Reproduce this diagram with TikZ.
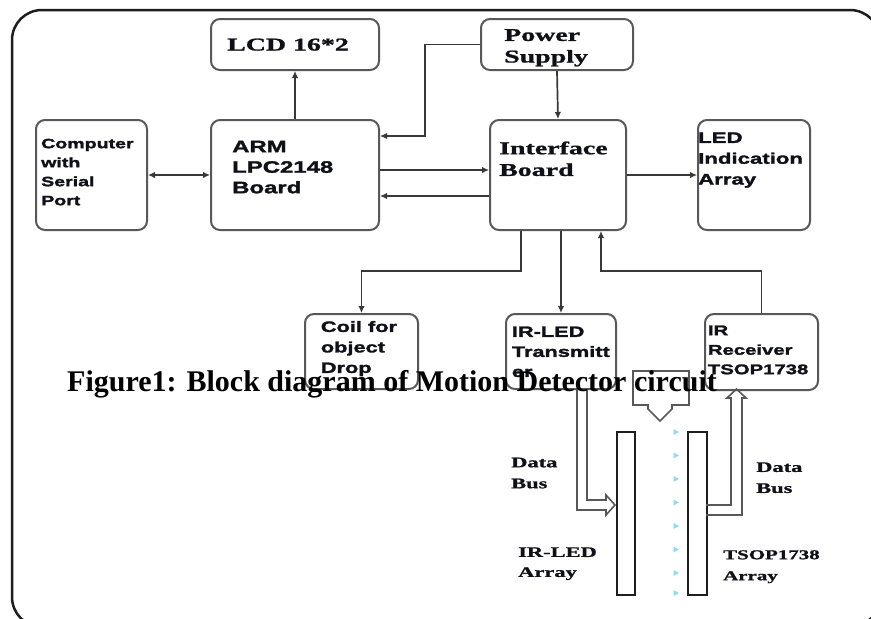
\documentclass[tikz,border=0pt]{standalone}
\usepackage{fontspec}
\newfontfamily\dserif{Liberation Serif}[FakeStretch=1.55,FakeBold=1.2]
\newfontfamily\dsans{Liberation Sans}[FakeStretch=1.45,FakeBold=1.8]
\newfontfamily\capfont{Liberation Serif}
\usetikzlibrary{arrows.meta}
\definecolor{boxc}{HTML}{585858}
\definecolor{linec}{HTML}{383838}
\definecolor{outc}{HTML}{1E1E1E}
\definecolor{txtc}{HTML}{101018}
\definecolor{dotc}{HTML}{8DDCF2}
\newcommand\tstrut{\rule{0pt}{0.8em}}
\begin{document}
\begin{tikzpicture}[x=1pt,y=-1pt,
  box/.style={draw=boxc, line width=2pt, rounded corners=9pt, inner sep=0pt, anchor=north west},
  conn/.style={draw=linec, line width=1.7pt, arrows={-Latex[length=7pt,width=6.5pt]}},
  bconn/.style={draw=linec, line width=1.7pt, arrows={Latex[length=7pt,width=6.5pt]-Latex[length=7pt,width=6.5pt]}},
  txt/.style={anchor=north west, inner sep=0pt, align=left, text=txtc},
  hollow/.style={draw=boxc, line width=1.6pt, line join=miter},
  bar/.style={draw=outc, line width=2pt, inner sep=0pt, anchor=north west}]
\useasboundingbox (0,0) rectangle (871,619);
\fill[white] (0,0) rectangle (871,619);
\clip (0,0) rectangle (871,619);
% outer frame
\draw[draw=outc, line width=2.5pt, rounded corners=30pt] (12,10) rectangle (880,627);
% boxes
\node[box, minimum width=168pt, minimum height=51pt] (lcd) at (210,18) {};
\node[box, minimum width=111pt, minimum height=110pt] (comp) at (35,119) {};
\node[box, minimum width=168pt, minimum height=110pt] (arm) at (210,119) {};
\node[box, minimum width=152pt, minimum height=51pt] (power) at (480,18) {};
\node[box, minimum width=136pt, minimum height=110pt] (iface) at (489,119) {};
\node[box, minimum width=112pt, minimum height=110pt] (led) at (697,119) {};
\node[box, minimum width=113pt, minimum height=75pt] (coil) at (304,313) {};
\node[box, minimum width=110pt, minimum height=75pt] (irtx) at (505,313) {};
\node[box, minimum width=113pt, minimum height=76pt] (irrx) at (704,313) {};
% box texts
\node[anchor=base west, inner sep=0pt, text=txtc, font=\dserif\bfseries\fontsize{18}{21.6}\selectfont] (lcdt) at (227,50.5) {LCD 16*2};
\node[txt, font=\dsans\bfseries\fontsize{13.5}{19}\selectfont] (compt) at (41,137.2) {\tstrut Computer\\with\\Serial\\Port};
\node[txt, font=\dsans\bfseries\fontsize{16.5}{20.5}\selectfont] (armt) at (232,138.8) {\tstrut ARM\\LPC2148\\Board};
\node[txt, font=\dserif\bfseries\fontsize{18}{21.6}\selectfont] (powert) at (504,26.3) {\tstrut Power\\Supply};
\node[txt, font=\dserif\bfseries\fontsize{18}{21.7}\selectfont] (ifacet) at (499,139.6) {\tstrut Interface\\Board};
\node[txt, font=\dsans\bfseries\fontsize{15.3}{20.8}\selectfont] (ledt) at (698,130.5) {\tstrut LED\\Indication\\Array};
\node[txt, font=\dsans\bfseries\fontsize{15}{20.5}\selectfont] (coilt) at (320.7,319.7) {\tstrut Coil for\\object\\Drop};
\node[txt, font=\dsans\bfseries\fontsize{15}{20}\selectfont] (irtxt) at (511.7,324.7) {\tstrut IR-LED\\Transmitt\\er};
\node[txt, font=\dsans\bfseries\fontsize{14}{19.5}\selectfont] (irrxt) at (707.7,323.8) {\tstrut IR\\Receiver\\TSOP1738};
% connectors
\draw[bconn] (comp.east) -- (arm.west);
\draw[conn] (arm.north) -- (lcd.south);
\coordinate (pa) at (425,136);
\draw[conn] (power.west) -| (pa) -- (arm.east |- pa);
\draw[conn] (power.south) -- (iface.north);
\draw[conn] ([yshift=5pt]arm.east) -- ([yshift=5pt]iface.west);
\draw[conn] ([yshift=-21pt]iface.west) -- ([yshift=-21pt]arm.east);
\draw[conn] (iface.east) -- (led.west);
\coordinate (j1) at (521,271);
\draw[conn] (j1 |- iface.south) -- (j1) -| (coil.north);
\draw[conn] (irtx.north |- iface.south) -- (irtx.north);
\coordinate (j2) at (601,271);
\draw[conn] (irrx.north) |- (j2) -- (j2 |- iface.south);
% arrays
\node[bar, minimum width=18pt, minimum height=163pt] (ira) at (616,431) {};
\node[bar, minimum width=19pt, minimum height=163pt] (tsa) at (687,431) {};
% light path dots
\foreach \yy in {432,455.5,479,502.5,526,549.5,573,593}
  \fill[dotc] (673.5,{\yy-3}) -- (679,\yy) -- (673.5,{\yy+3}) -- cycle;
% hollow arrows
\draw[hollow] (577,388) -- (577,510) -- (606,510) -- (606,515) -- (615,505) -- (606,495) -- (606,500) -- (587,500) -- (587,388);
\draw[hollow] (706,505) -- (731,505) -- (731,398) -- (727,398) -- (736.5,389) -- (746,398) -- (742,398) -- (742,515) -- (706,515);
\draw[hollow] (633,371) -- (689,371) -- (689,405) -- (672,405) -- (672,409) -- (660,421) -- (648,409) -- (648,405) -- (633,405) -- cycle;
% lower labels
\node[txt, font=\dserif\bfseries\fontsize{14.5}{21}\selectfont] (db1) at (511,455.4) {\tstrut Data\\Bus};
\node[txt, font=\dserif\bfseries\fontsize{14.5}{21}\selectfont] (db2) at (756,460.1) {\tstrut Data\\Bus};
\node[txt, font=\dserif\bfseries\fontsize{14.5}{20}\selectfont] (iral) at (518,545.1) {\tstrut IR-LED\\Array};
\node[txt, font=\dserif\bfseries\fontsize{13.5}{21}\selectfont] (tsal) at (723,548.2) {\tstrut TSOP1738\\Array};
% caption
\node[anchor=base west, inner sep=0pt, text=black, font=\capfont\bfseries\fontsize{30}{36}\selectfont] (cap) at (67,391) {Figure1: Block diagram of Motion Detector circuit};
\end{tikzpicture}
\end{document}
